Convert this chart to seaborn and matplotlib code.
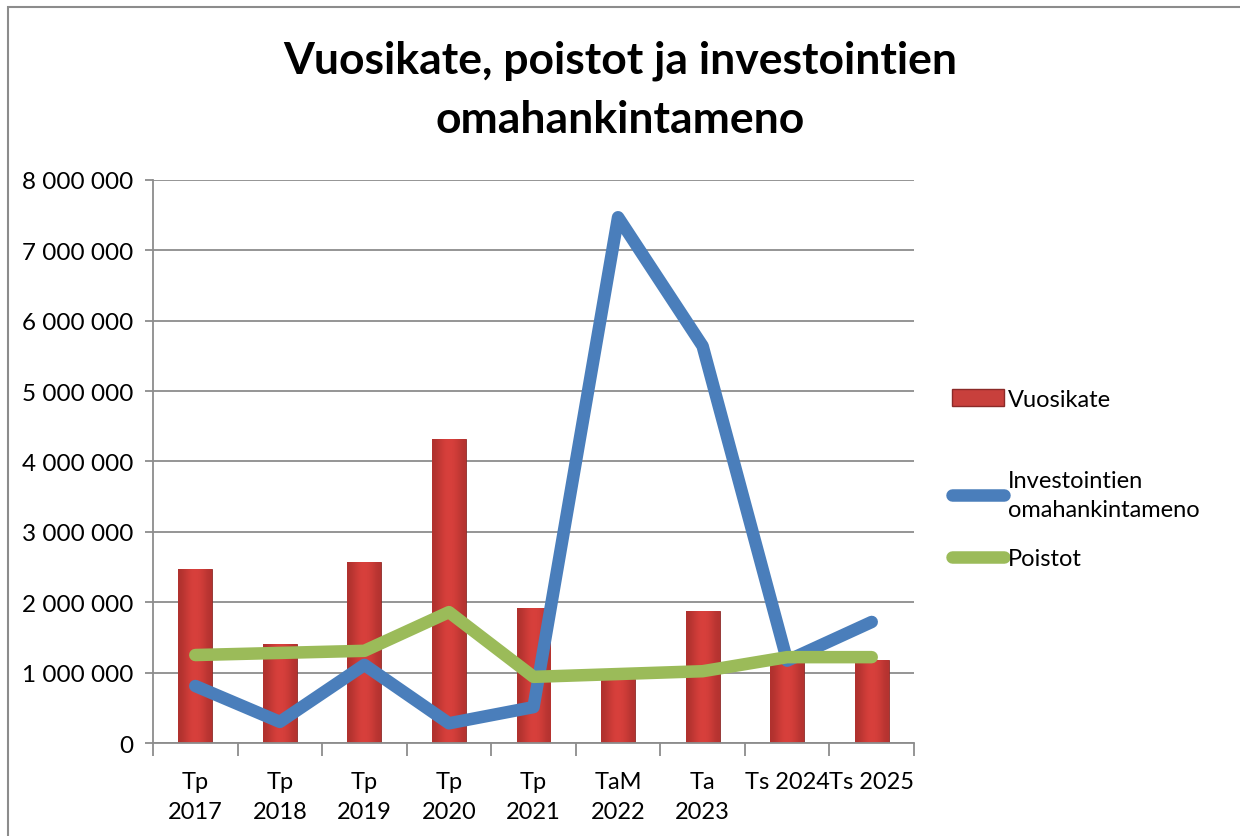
"""Vuosikate, poistot ja investointien omahankintameno — bar + line combo."""
import matplotlib
matplotlib.use("Agg")
import matplotlib.pyplot as plt
import numpy as np
import pandas as pd
import seaborn as sns
from matplotlib.lines import Line2D
from matplotlib.patches import Rectangle
from matplotlib.ticker import FuncFormatter, MultipleLocator

sns.set_theme(style="white")
plt.rcParams["font.family"] = ["Lato", "DejaVu Sans"]
plt.rcParams["text.color"] = "black"

# --- data ---------------------------------------------------------------- #
years = ["Tp\n2017", "Tp\n2018", "Tp\n2019", "Tp\n2020", "Tp\n2021",
         "TaM\n2022", "Ta\n2023", "Ts 2024", "Ts 2025"]
vuosikate = [2470000, 1410000, 2570000, 4320000, 1920000,
             910000, 1870000, 1250000, 1180000]
investoinnit = [810000, 300000, 1110000, 280000, 510000,
                7470000, 5640000, 1170000, 1720000]
poistot = [1250000, 1280000, 1310000, 1860000, 940000,
           980000, 1020000, 1220000, 1220000]

df = pd.DataFrame({"vuosi": years, "Vuosikate": vuosikate,
                   "Investointien\nomahankintameno": investoinnit,
                   "Poistot": poistot})

RED = "#C8403C"
BLUE = "#4A7EBB"
GREEN = "#9BBB59"
GRID = "#8C8C8C"
LW = 9

fig = plt.figure(figsize=(12.4, 8.37), dpi=100)
ax = fig.add_axes([0.1234, 0.1111, 0.6137, 0.6727])

sns.barplot(data=df, x="vuosi", y="Vuosikate", color=RED, width=0.4,
            saturation=1, edgecolor="#8B2A28", linewidth=0.6, ax=ax, zorder=2)

# soft horizontal shading on the bars (bevel look)
shade = np.array([[0.55, 0.8, 1.0, 1.0, 0.85, 0.6]])
for p in list(ax.patches):
    x0, w, h = p.get_x(), p.get_width(), p.get_height()
    im = ax.imshow(shade, extent=(x0, x0 + w, 0, h), aspect="auto",
                   cmap=sns.blend_palette(["#7E1F1D", "#D8403C"], as_cmap=True),
                   vmin=0, vmax=1, zorder=2.5, interpolation="bicubic")
    im.set_clip_path(p)

sns.lineplot(data=df, x="vuosi", y="Investointien\nomahankintameno",
             color=BLUE, linewidth=LW, ax=ax, zorder=3,
             solid_capstyle="round", sort=False)
sns.lineplot(data=df, x="vuosi", y="Poistot", color=GREEN, linewidth=LW,
             ax=ax, zorder=4, solid_capstyle="round", sort=False)

ax.set_xlim(-0.5, len(years) - 0.5)
ax.set_ylim(0, 8000000)
ax.yaxis.set_major_locator(MultipleLocator(1000000))
ax.yaxis.set_major_formatter(
    FuncFormatter(lambda v, _: f"{int(v):,}".replace(",", " ")))
ax.grid(axis="y", color=GRID, linewidth=1.3, zorder=0)
ax.set_axisbelow(True)
for side in ("top", "right"):
    ax.spines[side].set_visible(False)
for side in ("left", "bottom"):
    ax.spines[side].set_color(GRID)
    ax.spines[side].set_linewidth(1.3)

ax.set_xticks(range(len(years)))
ax.set_xticklabels(years, fontsize=17, color="black", linespacing=1.55)
ax.tick_params(axis="x", length=0, pad=20)
ax.set_xticks(np.arange(-0.5, len(years)), minor=True)
ax.tick_params(axis="x", which="minor", length=9, color=GRID, width=1.3,
               direction="out", bottom=True)
ax.tick_params(axis="y", labelsize=17.5, colors="black", length=6,
               color=GRID, width=1.3, direction="out", left=True, pad=8)
ax.set_xlabel("")
ax.set_ylabel("")

fig.suptitle("Vuosikate, poistot ja investointien\nomahankintameno",
             x=0.5, y=0.952, fontsize=32, fontweight="bold", linespacing=1.6,
             color="black")

# legend: one entry per slot, spaced like the original
entries = [
    (Rectangle((0, 0), 1, 1, facecolor=RED, edgecolor="#8B2A28"),
     "Vuosikate", 0.522),
    (Line2D([], [], color=BLUE, linewidth=LW, solid_capstyle="round"),
     "Investointien\nomahankintameno", 0.4074),
    (Line2D([], [], color=GREEN, linewidth=LW, solid_capstyle="round"),
     "Poistot", 0.331),
]
for handle, label, ypos in entries:
    leg = fig.legend([handle], [label], loc="center left",
                     bbox_to_anchor=(0.768, ypos), frameon=False, fontsize=17,
                     handlelength=2.2, handletextpad=0.15, borderaxespad=0,
                     borderpad=0, labelcolor="black")
    for t in leg.get_texts():
        t.set_linespacing(1.45)

# outer chart frame
fig.patches.append(Rectangle((0.0065, -0.01), 1.2, 1.0, transform=fig.transFigure,
                             fill=False, edgecolor="#8C8C8C", linewidth=1.5))

fig.savefig("out.png", dpi=100)
